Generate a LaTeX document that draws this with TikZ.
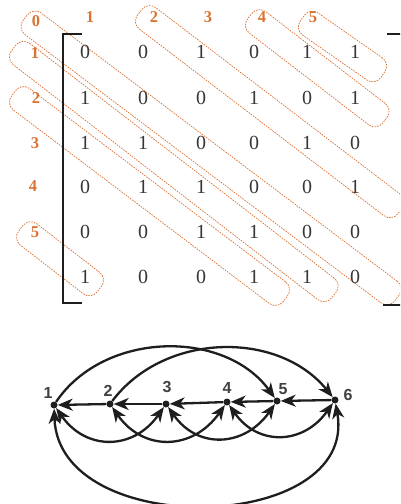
\documentclass[tikz,border=0pt]{standalone}
\usepackage{fontspec}
\setmainfont{Liberation Serif}
\newfontfamily\graphfont{Liberation Sans}
\usetikzlibrary{arrows.meta,calc}
\definecolor{lorange}{RGB}{218,114,50}
\definecolor{mgray}{RGB}{55,55,55}
\definecolor{bkline}{RGB}{30,30,30}
\begin{document}
\begin{tikzpicture}[x=1pt,y=-1pt,
  entry/.style={font=\fontsize{20}{20}\selectfont, text=mgray, inner sep=0},
  lab/.style={font=\fontsize{16.5}{16.5}\selectfont\bfseries, text=lorange, inner sep=0},
  band/.style={rectangle, draw=lorange, line width=0.7pt, dash pattern=on 1.6pt off 1.1pt,
    rounded corners=10pt, minimum height=27pt, inner sep=0},
  brk/.style={line width=2.3pt, draw=bkline},
  vert/.style={circle, fill=bkline, inner sep=0, minimum size=7pt},
  vlab/.style={font=\graphfont\fontsize{16}{16}\selectfont\bfseries, text=bkline!85, inner sep=0},
  edge/.style={line width=2.3pt, draw=bkline, -{Stealth[length=15pt,width=12pt,inset=4.5pt]}},
  bedge/.style={line width=2.3pt, draw=bkline, {Stealth[length=15pt,width=12pt,inset=4.5pt]}-{Stealth[length=15pt,width=12pt,inset=4.5pt]}},
]
\useasboundingbox (0,0) rectangle (400,504);
\clip (0,0) rectangle (400,504);

% diagonal bands
\foreach \sx/\sy/\ex/\ey/\nm in {25.1/17.8/397/298/b0, 13.6/48/334/295/bl1, 13.6/93.3/285.4/298.7/bl2,
  20.6/228.3/99.4/289.2/bl5, 139.6/12.3/400/211/bt2, 249.6/16.3/384.9/120.2/bt4, 302.1/18.3/382.9/74.7/bt5} {
  \coordinate (\nm-s) at (\sx,\sy);
  \coordinate (\nm-e) at (\ex,\ey);
  \path let \p1=($(\nm-e)-(\nm-s)$), \n1={atan2(\y1,\x1)}, \n2={veclen(\x1,\y1)} in
    node[band, minimum width=\n2, rotate=\n1] (\nm) at ($(\nm-s)!0.5!(\nm-e)$) {};
}

% matrix entries
\foreach \v/\cx [count=\c from 0] in {0/85,0/143,1/201,0/254,1/307,1/355} \node[entry] (m-0-\c) at (\cx,52) {\v};
\foreach \v/\cx [count=\c from 0] in {1/85,0/143,0/201,1/254,0/307,1/355} \node[entry] (m-1-\c) at (\cx,98) {\v};
\foreach \v/\cx [count=\c from 0] in {1/85,1/143,0/201,0/254,1/307,0/355} \node[entry] (m-2-\c) at (\cx,143) {\v};
\foreach \v/\cx [count=\c from 0] in {0/85,1/143,1/201,0/254,0/307,1/355} \node[entry] (m-3-\c) at (\cx,187) {\v};
\foreach \v/\cx [count=\c from 0] in {0/85,0/143,1/201,1/254,0/307,0/355} \node[entry] (m-4-\c) at (\cx,232) {\v};
\foreach \v/\cx [count=\c from 0] in {1/85,0/143,0/201,1/254,1/307,0/355} \node[entry] (m-5-\c) at (\cx,277) {\v};

% orange labels
\node[lab] (t0) at (36,21) {0};
\node[lab] (t1) at (90,17) {1};
\node[lab] (t2) at (154,17) {2};
\node[lab] (t3) at (208,17) {3};
\node[lab] (t4) at (262,17) {4};
\node[lab] (t5) at (313,17) {5};
\node[lab] (l1) at (35,53) {1};
\node[lab] (l2) at (36,98) {2};
\node[lab] (l3) at (35,143) {3};
\node[lab] (l4) at (33,186) {4};
\node[lab] (l5) at (35,232) {5};

% brackets
\draw[brk] (82,34) -- (63,34) -- (63,303) -- (82,303);
\draw[brk] (387,34) -- (404,34) -- (404,305) -- (383,305);

% graph
\node[vert] (n1) at (54,405) {};
\node[vert] (n2) at (110,404) {};
\node[vert] (n3) at (166,404) {};
\node[vert] (n4) at (227,402) {};
\node[vert] (n5) at (277,401) {};
\node[vert] (n6) at (335,400) {};
\node[vlab] (v1) at (48,393) {1};
\node[vlab] (v2) at (108,391) {2};
\node[vlab] (v3) at (167,387) {3};
\node[vlab] (v4) at (227,388) {4};
\node[vlab] (v5) at (283,389) {5};
\node[vlab] (v6) at (348,395) {6};

\draw[edge] (n2) -- (n1);
\draw[edge] (n3) -- (n2);
\draw[edge] (n4) -- (n3);
\draw[edge] (n5) -- (n4);
\draw[edge] (n6) -- (n5);
\draw[edge] (n1) to[bend left=55] (n5);
\draw[edge] (n2) to[bend left=52] (n6);
\draw[bedge] (n1) to[out=-55,in=-125,looseness=1.25] (n3);
\draw[bedge] (n2) to[out=-55,in=-125,looseness=1.25] (n4);
\draw[bedge] (n3) to[out=-55,in=-125,looseness=1.25] (n5);
\draw[bedge] (n4) to[out=-55,in=-125,looseness=1.25] (n6);
\draw[bedge] (n1) to[out=-88,in=-80,looseness=1.2] (n6);
\end{tikzpicture}
\end{document}
